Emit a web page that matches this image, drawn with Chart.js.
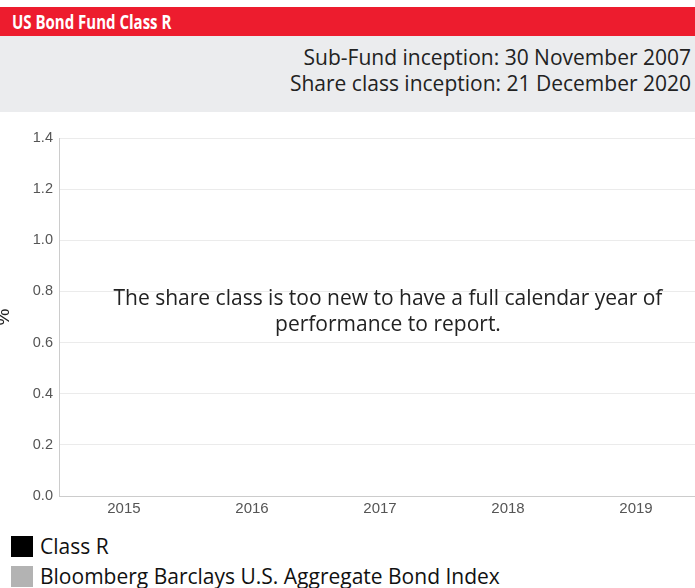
<!DOCTYPE html>
<html>
<head>
<meta charset="utf-8">
<script src="https://cdn.jsdelivr.net/npm/chart.js@4"></script>
<style>
  html, body { margin: 0; padding: 0; background: #fff; overflow: hidden; }
  body { width: 695px; height: 588px; font-family: "Open Sans", "Noto Sans", sans-serif; }
  .title { margin-top: 7px; height: 29px; background: #ed1c2e; color: #fff; font-weight: bold;
    font-size: 20px; line-height: 29px; padding-left: 12px; }
  .title span { display: inline-block; transform: scaleX(0.75); transform-origin: left center; }
  .info { height: 76px; background: #ebecee; color: #222; font-size: 21px; text-align: right;
    padding-right: 4px; box-sizing: border-box; padding-top: 8px; line-height: 26px; }
  .chartBox { position: relative; width: 700px; height: 410px; }
  .legend { margin-top: 9px; padding-left: 11px; font-size: 21px; color: #111; }
  .legend div { display: flex; align-items: center; height: 30px; }
  .legend span.sw { display: inline-block; width: 22px; height: 21px; margin-right: 7px; }
</style>
</head>
<body>
<div class="title"><span>US Bond Fund Class R</span></div>
<div class="info">Sub-Fund inception: 30 November 2007<br>Share class inception: 21 December 2020</div>
<div class="chartBox"><canvas id="myChart"></canvas></div>
<div class="legend" id="legend"></div>
<script>
const years = ["2015", "2016", "2017", "2018", "2019"];
const classR = [null, null, null, null, null];
const benchmark = [null, null, null, null, null];
const seriesNames = ["Class R", "Bloomberg Barclays U.S. Aggregate Bond Index"];
const seriesColors = ["#000000", "#b3b3b3"];
const noDataLines = ["The share class is too new to have a full calendar year of", "performance to report."];

const noDataText = {
    id: 'noDataText',
    afterDraw(chart) {
        const { ctx, chartArea } = chart;
        const cx = (chartArea.left + chartArea.right) / 2 + 8;
        const cy = (chartArea.top + chartArea.bottom) / 2 - 18;
        ctx.save();
        ctx.font = '21px "Open Sans", sans-serif';
        ctx.fillStyle = '#222';
        ctx.textAlign = 'center';
        ctx.textBaseline = 'middle';
        noDataLines.forEach((line, i) => ctx.fillText(line, cx, cy + i * 26));
        ctx.restore();
    }
};

const chart = new Chart(document.getElementById("myChart"), {
    type: "bar",
    data: {
        labels: years,
        datasets: [
            { label: seriesNames[0], data: classR, backgroundColor: seriesColors[0] },
            { label: seriesNames[1], data: benchmark, backgroundColor: seriesColors[1] }
        ]
    },
    options: {
        responsive: true,
        maintainAspectRatio: false,
        animation: false,
        layout: { padding: { top: 26, left: 0, right: 0, bottom: 0 } },
        plugins: { legend: { display: false }, tooltip: { enabled: false } },
        scales: {
            x: {
                grid: { display: false, drawTicks: false },
                border: { color: '#cccccc' },
                ticks: { color: '#555', font: { family: 'Liberation Sans, Arial', size: 15 }, padding: 4 }
            },
            y: {
                min: 0,
                max: 1.4,
                ticks: {
                    stepSize: 0.2,
                    color: '#555',
                    font: { family: 'Liberation Sans, Arial', size: 14.5 },
                    padding: 7,
                    callback: v => v.toFixed(1)
                },
                grid: { color: '#ebebeb', drawTicks: false },
                border: { color: '#cccccc' },
                title: {
                    display: true, text: '%', color: '#222',
                    font: { family: 'Liberation Sans, Arial', size: 19 },
                    padding: { top: -8, bottom: 11 }
                }
            }
        }
    },
    plugins: [noDataText]
});

const legendEl = document.getElementById("legend");
chart.data.datasets.forEach(ds => {
    const row = document.createElement("div");
    row.innerHTML = '<span class="sw" style="background:' + ds.backgroundColor + '"></span>' + ds.label;
    legendEl.appendChild(row);
});
</script>
</body>
</html>
